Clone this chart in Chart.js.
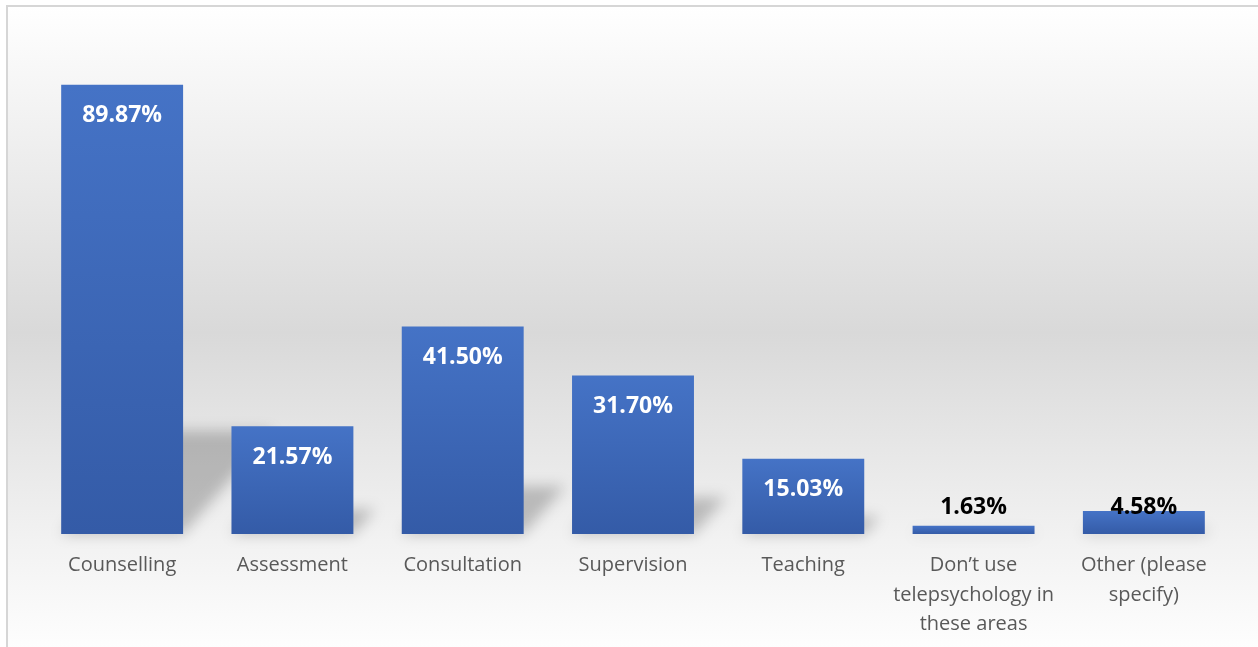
<!DOCTYPE html>
<html>
<head>
<meta charset="utf-8">
<script src="https://cdn.jsdelivr.net/npm/chart.js@4.4.1/dist/chart.umd.min.js"></script>
<style>
  html, body { margin: 0; padding: 0; background: #fff; }
  #wrap { width: 1258px; height: 647px; }
</style>
</head>
<body>
<div id="wrap"><canvas id="usageChart"></canvas></div>
<script>
const categories = [
  'Counselling',
  'Assessment',
  'Consultation',
  'Supervision',
  'Teaching',
  ['Don\u2019t use', 'telepsychology in', 'these areas'],
  ['Other (please', 'specify)']
];
const percentages = [89.87, 21.57, 41.50, 31.70, 15.03, 1.63, 4.58];
const yMax = 100;

// grey panel behind the chart with its thin frame
const panelBackground = {
  id: 'panelBackground',
  beforeDraw(chart) {
    const ctx = chart.ctx;
    const g = ctx.createLinearGradient(0, 5, 0, 660);
    g.addColorStop(0, '#ffffff');
    g.addColorStop(0.5, '#d9d9d9');
    g.addColorStop(0.82, '#f2f2f2');
    g.addColorStop(1, '#ffffff');
    ctx.save();
    ctx.fillStyle = g;
    ctx.fillRect(7, 5, chart.width, chart.height);
    ctx.strokeStyle = '#d6d6d6';
    ctx.lineWidth = 2;
    ctx.strokeRect(7, 6, chart.width + 10, chart.height + 10);
    ctx.restore();
  }
};

// soft perspective shadow leaning up and to the right of each bar
const barShadows = {
  id: 'barShadows',
  beforeDatasetsDraw(chart) {
    const ctx = chart.ctx;
    const bars = chart.getDatasetMeta(0).data;
    ctx.save();
    ctx.filter = 'blur(7px)';
    ctx.fillStyle = 'rgba(0, 0, 0, 0.22)';
    bars.forEach(bar => {
      const h = bar.base - bar.y;
      const left = bar.x - bar.width / 2;
      const right = bar.x + bar.width / 2;
      const dy = h * 0.23;
      const dx = h * 0.2;
      ctx.beginPath();
      ctx.moveTo(left, bar.base);
      ctx.lineTo(right, bar.base);
      ctx.lineTo(right + dx, bar.base - dy);
      ctx.lineTo(left + dx, bar.base - dy);
      ctx.closePath();
      ctx.fill();
    });
    ctx.restore();
  }
};

// percentage labels: inside the top of tall bars, above short ones
const valueLabels = {
  id: 'valueLabels',
  afterDatasetsDraw(chart) {
    const ctx = chart.ctx;
    const bars = chart.getDatasetMeta(0).data;
    ctx.save();
    ctx.font = 'bold 23px "Open Sans"';
    ctx.textAlign = 'center';
    ctx.textBaseline = 'middle';
    bars.forEach((bar, i) => {
      const text = percentages[i].toFixed(2) + '%';
      const h = bar.base - bar.y;
      if (h > 50) {
        ctx.fillStyle = '#ffffff';
        ctx.fillText(text, bar.x, bar.y + 31);
      } else {
        ctx.fillStyle = '#000000';
        ctx.fillText(text, bar.x, bar.base - 27);
      }
    });
    ctx.restore();
  }
};

function barFill(context) {
  const chart = context.chart;
  if (!chart.chartArea || context.type !== 'data') return '#4472c4';
  const y = chart.scales.y;
  const top = y.getPixelForValue(percentages[context.dataIndex]);
  const base = y.getPixelForValue(0);
  const g = chart.ctx.createLinearGradient(0, top, 0, base);
  g.addColorStop(0, '#4573c6');
  g.addColorStop(1, '#345ba7');
  return g;
}

new Chart(document.getElementById('usageChart'), {
  type: 'bar',
  data: {
    labels: categories,
    datasets: [{
      data: percentages,
      backgroundColor: barFill,
      borderWidth: 0,
      categoryPercentage: 1,
      barPercentage: 0.716
    }]
  },
  options: {
    responsive: true,
    maintainAspectRatio: false,
    animation: false,
    layout: { padding: { left: 37, right: 29, top: 34, bottom: 0 } },
    plugins: {
      legend: { display: false },
      tooltip: { enabled: false }
    },
    scales: {
      y: { display: false, min: 0, max: yMax },
      x: {
        grid: { display: false },
        border: { display: false },
        ticks: {
          color: '#595959',
          font: { family: 'Open Sans', size: 20, lineHeight: 1.475 },
          padding: 9,
          maxRotation: 0,
          autoSkip: false
        },
        afterFit: scale => { scale.height = 113; }
      }
    }
  },
  plugins: [panelBackground, barShadows, valueLabels]
});
</script>
</body>
</html>
